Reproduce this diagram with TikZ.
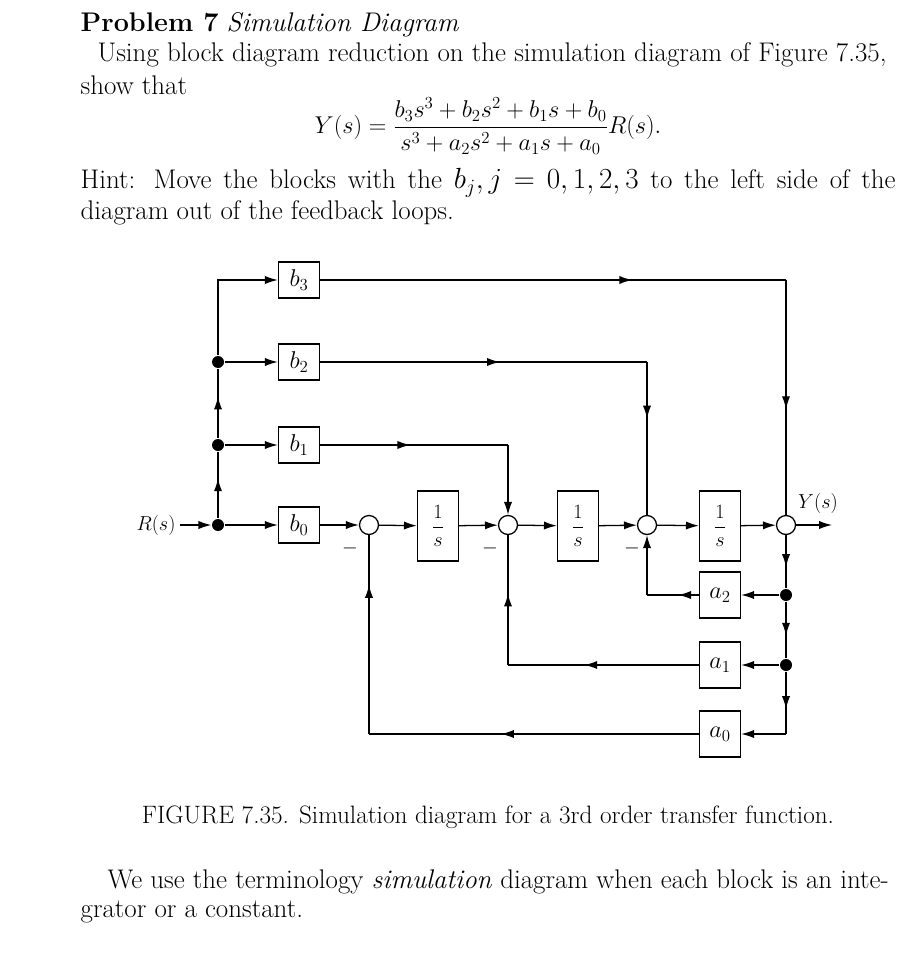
\documentclass[tikz,border=0pt]{standalone}
\usepackage{amsmath}
\usetikzlibrary{arrows.meta,decorations.markings}
\tikzset{
  blk/.style={draw,minimum width=41*0.03cm,minimum height=36*0.03cm,inner sep=0pt,font=\fontsize{22}{24}\selectfont},
  intg/.style={blk,minimum height=70*0.03cm,font=\fontsize{19}{22}\selectfont},
  sm/.style={draw,circle,minimum size=19*0.03cm,inner sep=0pt},
  dot/.style={circle,fill,minimum size=12*0.03cm,inner sep=0pt},
  mid/.style={postaction={decorate},decoration={markings,mark=at position #1 with {\arrow{Latex[length=11pt,width=7pt]}}}},
  tip/.style={-{Latex[length=11pt,width=7pt]}},
  txt/.style={anchor=west,inner sep=0pt,font=\fontsize{23}{30}\selectfont},
  lbl/.style={font=\fontsize{19}{22}\selectfont}
}
\begin{document}
\begin{tikzpicture}[x=0.03cm,y=-0.03cm,line width=1.1pt]
  \useasboundingbox (0,0) rectangle (922,961);
  % text above
  \node[txt] (head) at (80,25) {\textbf{Problem 7} \textit{Simulation Diagram}};
  \node[txt] (p1) at (97,55) {Using block diagram reduction on the simulation diagram of Figure 7.35,};
  \node[txt] (p2) at (80,85) {show that};
  \node[inner sep=0pt,font=\fontsize{20.5}{30}\selectfont] (eq) at (488,126)
    {$Y(s)=\dfrac{b_3s^3+b_2s^2+b_1s+b_0}{s^3+a_2s^2+a_1s+a_0}R(s).$};
  \node[txt] (h1) at (80,183) {\makebox[24.45cm][s]{Hint: Move the blocks with the $b_j,j$ $=$ $0,1,2,3$ to the left side of the}};
  \node[txt] (h2) at (80,213) {diagram out of the feedback loops.};
  % blocks
  \node[blk] (b3) at (299,280) {$b_3$};
  \node[blk] (b2) at (299,362) {$b_2$};
  \node[blk] (b1) at (299,445) {$b_1$};
  \node[blk] (b0) at (299,525) {$b_0$};
  \node[sm] (s1) at (369,525) {};
  \node[sm] (s2) at (508,525) {};
  \node[sm] (s3) at (647,525) {};
  \node[sm] (s4) at (786,525) {};
  \node[intg] (i1) at (438,526) {$\dfrac{1}{s}$};
  \node[intg] (i2) at (578,526) {$\dfrac{1}{s}$};
  \node[intg] (i3) at (720,526) {$\dfrac{1}{s}$};
  \node[blk,minimum height=46*0.03cm] (a2) at (720,595) {$a_2$};
  \node[blk,minimum height=46*0.03cm] (a1) at (720,665) {$a_1$};
  \node[blk,minimum height=46*0.03cm] (a0) at (720,734) {$a_0$};
  \node[dot] (d0) at (218,525) {};
  \node[dot] (d1) at (218,445) {};
  \node[dot] (d2) at (218,362) {};
  \node[dot] (d4) at (786,595) {};
  \node[dot] (d5) at (786,665) {};
  \coordinate (c3) at (218,280);
  \coordinate (c4) at (786,280);
  \coordinate (c2) at (647,362);
  \coordinate (c1) at (508,445);
  \coordinate (c6) at (786,734);
  \coordinate (e2) at (647,595);
  \coordinate (e1) at (508,665);
  \coordinate (e0) at (369,734);
  \coordinate (out) at (832,525);
  \node[lbl] (R) at (156,525) {$R(s)$};
  \node[lbl] (Y) at (818,503) {$Y(s)$};
  \node[lbl] (m1) at (350,548) {$-$};
  \node[lbl] (m2) at (490,548) {$-$};
  \node[lbl] (m3) at (632,548) {$-$};
  % forward paths
  \draw[tip] (R) -- (d0);
  \draw[tip] (d0) -- (b0);
  \draw[tip] (d1) -- (b1);
  \draw[tip] (d2) -- (b2);
  \draw[mid=0.6] (d0) -- (d1);
  \draw[mid=0.6] (d1) -- (d2);
  \draw[tip] (d2) -- (c3) -- (b3);
  \draw[tip] (b0) -- (s1);
  \draw[tip] (s1) -- (i1);
  \draw[tip] (i1) -- (s2);
  \draw[tip] (s2) -- (i2);
  \draw[tip] (i2) -- (s3);
  \draw[tip] (s3) -- (i3);
  \draw[tip] (i3) -- (s4);
  \draw[tip] (s4) -- (out);
  \draw[mid=0.67] (b3) -- (c4);
  \draw[mid=0.55] (c4) -- (s4);
  \draw[mid=0.55] (b2) -- (c2);
  \draw[mid=0.37] (c2) -- (s3);
  \draw[mid=0.48] (b1) -- (c1);
  \draw[tip] (c1) -- (s2);
  % feedback paths
  \draw[mid=0.6] (s4) -- (d4);
  \draw[tip] (d4) -- (a2);
  \draw[mid=0.4] (a2) -- (e2);
  \draw[tip] (e2) -- (s3);
  \draw[mid=0.6] (d4) -- (d5);
  \draw[tip] (d5) -- (a1);
  \draw[mid=0.6] (a1) -- (e1);
  \draw[mid=0.55] (e1) -- (s2);
  \draw[mid=0.6] (d5) -- (c6);
  \draw[tip] (c6) -- (a0);
  \draw[mid=0.6] (a0) -- (e0);
  \draw[mid=0.75] (e0) -- (s1);
  % text below
  \node[inner sep=0pt,font=\fontsize{21.5}{24}\selectfont] (cap) at (488,817) {FIGURE 7.35. Simulation diagram for a 3rd order transfer function.};
  \node[txt] (q1) at (107,882) {We use the terminology \textit{simulation} diagram when each block is an inte-};
  \node[txt] (q2) at (80,912) {grator or a constant.};
\end{tikzpicture}
\end{document}
